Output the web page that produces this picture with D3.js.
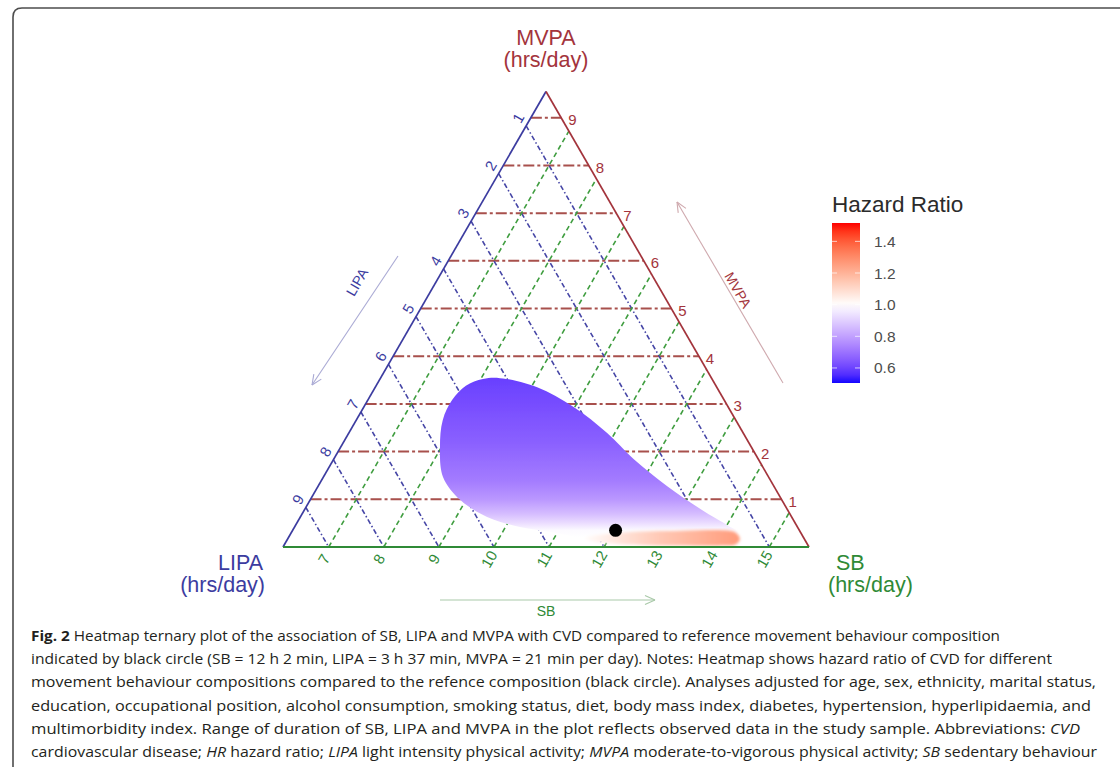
<!DOCTYPE html>
<html><head><meta charset="utf-8">
<script src="https://cdn.jsdelivr.net/npm/d3@7"></script>
<style>body{margin:0;background:#fff;} svg{display:block;}</style>
</head><body>
<svg id="chart" width="1120" height="767"></svg>
<script>
// ---------------- data ----------------
const TOTAL = 16;                       // waking hours: SB + LIPA + MVPA
const sbRange = [6.17, 15.72];
const lipaRange = [0.28, 9.83];
const mvpaRange = [0, 9.55];
const sbTicks = [7, 8, 9, 10, 11, 12, 13, 14, 15];
const lipaTicks = [1, 2, 3, 4, 5, 6, 7, 8, 9];
const mvpaTicks = [1, 2, 3, 4, 5, 6, 7, 8, 9];
const refSB = 12 + 2 / 60, refLIPA = 3 + 37 / 60, refMVPA = 21 / 60;

// observed-data region (SB, MVPA); LIPA = TOTAL - SB - MVPA
const regionSB   = [8.34, 9.11, 9.97, 10.86, 11.62, 12.50, 13.38, 14.02, 14.27, 14.36, 14.32, 12.82, 11.67, 10.91, 10.26, 9.56, 8.89, 8.34, 7.97, 7.74, 7.70, 7.80, 8.04];
const regionMVPA = [3.54, 3.35, 2.94, 2.39, 1.84, 1.28, 0.78, 0.45, 0.31, 0.15, 0.04, 0.02, 0.15, 0.31, 0.42, 0.63, 0.99, 1.47, 2.10, 2.66, 3.08, 3.38, 3.52];
// hazard ratio by MVPA level inside the region
const rowMVPA = [0.00, 0.20, 0.35, 0.50, 0.70, 1.00, 1.40, 1.80, 2.20, 2.60, 3.00, 3.60];
const rowHR   = [1.00, 1.00, 0.99, 0.93, 0.86, 0.78, 0.72, 0.69, 0.66, 0.64, 0.62, 0.59];
// low-MVPA band with HR > 1 (SB, MVPA)
const stripSB   = [11.55, 12.16, 13.23, 14.00, 14.24, 14.38, 14.36, 14.18, 13.36, 12.26, 11.66];
const stripMVPA = [0.19, 0.30, 0.34, 0.35, 0.30, 0.17, 0.05, 0.03, 0.03, 0.06, 0.13];
const stripHRsb = [11.5, 12.0, 12.5, 13.0, 13.5, 14.0, 14.4];
const stripHR   = [1.00, 1.05, 1.10, 1.15, 1.19, 1.23, 1.26];
// legend
const legendLimits = [0.505, 1.516];
const legendTicks = [0.6, 0.8, 1.0, 1.2, 1.4];

const captionLines = [
  [["b","Fig. 2"],["n"," Heatmap ternary plot of the association of SB, LIPA and MVPA with CVD compared to reference movement behaviour composition"]],
  [["n","indicated by black circle (SB = 12 h 2 min, LIPA = 3 h 37 min, MVPA = 21 min per day). Notes: Heatmap shows hazard ratio of CVD for different"]],
  [["n","movement behaviour compositions compared to the refence composition (black circle). Analyses adjusted for age, sex, ethnicity, marital status,"]],
  [["n","education, occupational position, alcohol consumption, smoking status, diet, body mass index, diabetes, hypertension, hyperlipidaemia, and"]],
  [["n","multimorbidity index. Range of duration of SB, LIPA and MVPA in the plot reflects observed data in the study sample. Abbreviations: "],["i","CVD"]],
  [["n","cardiovascular disease; "],["i","HR"],["n"," hazard ratio; "],["i","LIPA"],["n"," light intensity physical activity; "],["i","MVPA"],["n"," moderate-to-vigorous physical activity; "],["i","SB"],["n"," sedentary behaviour"]]
];
const captionWidths = [969, 1021, 1065, 1060, 1049, 1066];

// ---------------- layout ----------------
const svg = d3.select("#chart");
const FONT = "'Liberation Sans', Arial, sans-serif";
const VL = [283, 547], VR = [809, 547], VT = [546, 91.5];
const wSB = d3.scaleLinear().domain(sbRange).range([0, 1]);
const wLIPA = d3.scaleLinear().domain(lipaRange).range([0, 1]);
const wMVPA = d3.scaleLinear().domain(mvpaRange).range([0, 1]);
function pt(sb, lipa, mvpa) {
  const s = wSB(sb), l = wLIPA(lipa), m = wMVPA(mvpa), t = s + l + m;
  return [(l * VL[0] + s * VR[0] + m * VT[0]) / t, (l * VL[1] + s * VR[1] + m * VT[1]) / t];
}
const ptSM = (sb, m) => pt(sb, TOTAL - sb - m, m);
const colorHR = d3.scaleLinear().domain([0.5, 1, 1.5]).range(["#0000ff", "#ffffff", "#ff0000"]).interpolate(d3.interpolateLab);

const C = {
  mvpa: "#a3343c", mvpaGrid: "#a8504c", mvpaArrow: "#cfa9ae",
  lipa: "#3c3ca0", lipaGrid: "#4646a6", lipaArrow: "#a9a9d4",
  sb: "#2f8a36", sbGrid: "#3f9d3f", sbArrow: "#a9c9a9"
};

const defs = svg.append("defs");

// frame
svg.append("path").attr("d", "M13,780 L13,17 Q13,8 22,8 L1125,8")
  .attr("fill", "none").attr("stroke", "#4d4d4d").attr("stroke-width", 1.6);

// ---------------- grid ----------------
const sbMin = sbRange[0], lipaMin = lipaRange[0];
const gGrid = svg.append("g").attr("fill", "none");
gGrid.selectAll(".gm").data(mvpaTicks).join("line")
  .attr("x1", m => pt(sbMin, TOTAL - sbMin - m, m)[0]).attr("y1", m => pt(sbMin, TOTAL - sbMin - m, m)[1])
  .attr("x2", m => pt(TOTAL - lipaMin - m, lipaMin, m)[0]).attr("y2", m => pt(TOTAL - lipaMin - m, lipaMin, m)[1])
  .attr("stroke", C.mvpaGrid).attr("stroke-width", 2).attr("stroke-dasharray", "11,3,3,3");
gGrid.selectAll(".gl").data(lipaTicks).join("line")
  .attr("x1", l => pt(sbMin, l, TOTAL - sbMin - l)[0]).attr("y1", l => pt(sbMin, l, TOTAL - sbMin - l)[1])
  .attr("x2", l => pt(TOTAL - l, l, 0)[0]).attr("y2", l => pt(TOTAL - l, l, 0)[1])
  .attr("stroke", C.lipaGrid).attr("stroke-width", 1.6).attr("stroke-dasharray", "5,2.5,1.5,2.5");
gGrid.selectAll(".gs").data(sbTicks).join("line")
  .attr("x1", s => pt(s, TOTAL - s, 0)[0]).attr("y1", s => pt(s, TOTAL - s, 0)[1])
  .attr("x2", s => pt(s, lipaMin, TOTAL - s - lipaMin)[0]).attr("y2", s => pt(s, lipaMin, TOTAL - s - lipaMin)[1])
  .attr("stroke", C.sbGrid).attr("stroke-width", 1.6).attr("stroke-dasharray", "5,3.5");

// ---------------- heatmap region ----------------
const maxRow = d3.max(rowMVPA);
const rowGrad = defs.append("linearGradient").attr("id", "rowGrad").attr("gradientUnits", "userSpaceOnUse")
  .attr("x1", 0).attr("x2", 0).attr("y1", ptSM(10, 0)[1]).attr("y2", ptSM(10, maxRow)[1]);
rowGrad.selectAll("stop").data(rowMVPA).join("stop")
  .attr("offset", (d) => d / maxRow).attr("stop-color", (d, i) => colorHR(rowHR[i]));
const line = d3.line().curve(d3.curveCatmullRomClosed.alpha(0.5));
defs.append("filter").attr("id", "soft").append("feGaussianBlur").attr("stdDeviation", 0.7);
svg.append("path").attr("d", line(regionSB.map((s, i) => ptSM(s, regionMVPA[i]))))
  .attr("fill", "url(#rowGrad)").attr("filter", "url(#soft)");

const sbMinS = d3.min(stripHRsb), sbMaxS = d3.max(stripHRsb);
const stripGrad = defs.append("linearGradient").attr("id", "stripGrad").attr("gradientUnits", "userSpaceOnUse")
  .attr("x1", ptSM(sbMinS, 0.15)[0]).attr("x2", ptSM(sbMaxS, 0.15)[0]).attr("y1", 0).attr("y2", 0);
stripGrad.selectAll("stop").data(stripHRsb).join("stop")
  .attr("offset", d => (d - sbMinS) / (sbMaxS - sbMinS)).attr("stop-color", (d, i) => colorHR(stripHR[i]));
defs.append("filter").attr("id", "soft2").append("feGaussianBlur").attr("stdDeviation", 1.4);
svg.append("path").attr("d", line(stripSB.map((s, i) => ptSM(s, stripMVPA[i]))))
  .attr("fill", "url(#stripGrad)").attr("filter", "url(#soft2)");

// reference composition
const rp = pt(refSB, refLIPA, refMVPA);
svg.append("circle").attr("cx", rp[0]).attr("cy", rp[1]).attr("r", 6.5).attr("fill", "#000");

// ---------------- triangle edges ----------------
svg.append("line").attr("x1", VL[0]).attr("y1", VL[1]).attr("x2", VT[0]).attr("y2", VT[1]).attr("stroke", C.lipa).attr("stroke-width", 1.7);
svg.append("line").attr("x1", VT[0]).attr("y1", VT[1]).attr("x2", VR[0]).attr("y2", VR[1]).attr("stroke", C.mvpa).attr("stroke-width", 1.7);
svg.append("line").attr("x1", VL[0]).attr("y1", VL[1]).attr("x2", VR[0]).attr("y2", VR[1]).attr("stroke", C.sb).attr("stroke-width", 2);

// ---------------- tick labels ----------------
svg.selectAll(".tm").data(mvpaTicks).join("text")
  .attr("x", m => pt(TOTAL - lipaMin - m, lipaMin, m)[0] + 7).attr("y", m => pt(TOTAL - lipaMin - m, lipaMin, m)[1] + 2)
  .attr("dominant-baseline", "central").attr("font-family", FONT).attr("font-size", 15).attr("fill", C.mvpa)
  .text(d => d);
svg.selectAll(".tl").data(lipaTicks).join("text")
  .attr("transform", l => { const p = pt(sbMin, l, TOTAL - sbMin - l); return `translate(${p[0] - 8},${p[1] - 8}) rotate(-60)`; })
  .attr("text-anchor", "middle").attr("dominant-baseline", "central").attr("font-family", FONT).attr("font-size", 15).attr("fill", C.lipa)
  .text(d => d);
svg.selectAll(".ts").data(sbTicks).join("text")
  .attr("transform", s => { const p = pt(s, TOTAL - s, 0); return `translate(${p[0] - 5},${p[1] + 12}) rotate(-60)`; })
  .attr("text-anchor", "middle").attr("dominant-baseline", "central").attr("font-family", FONT).attr("font-size", 15).attr("fill", C.sb)
  .text(d => d);

// ---------------- axis titles ----------------
function title(lines, xs, y, anchor, color) {
  const t = svg.append("text").attr("font-family", FONT).attr("font-size", 21.5).attr("fill", color).attr("text-anchor", anchor);
  lines.forEach((s, i) => t.append("tspan").attr("x", xs[i]).attr("y", y + i * 22).text(s));
}
title(["MVPA", "(hrs/day)"], [546, 546], 45, "middle", C.mvpa);
title(["LIPA", "(hrs/day)"], [263, 265], 570, "end", C.lipa);
title(["SB", "(hrs/day)"], [836, 828], 570, "start", C.sb);

// ---------------- axis arrows ----------------
function arrow(x1, y1, x2, y2, color) {
  const g = svg.append("g").attr("stroke", color).attr("stroke-width", 1.1).attr("fill", "none");
  g.append("line").attr("x1", x1).attr("y1", y1).attr("x2", x2).attr("y2", y2);
  const a = Math.atan2(y2 - y1, x2 - x1), h = 11;
  [0.42, -0.42].forEach(d => g.append("line").attr("x1", x2).attr("y1", y2)
    .attr("x2", x2 - h * Math.cos(a + d)).attr("y2", y2 - h * Math.sin(a + d)));
}
arrow(398, 256, 312, 385, C.lipaArrow);
arrow(783, 383, 677, 202, C.mvpaArrow);
arrow(440, 600, 655, 600, C.sbArrow);
svg.append("text").attr("transform", "translate(357,282) rotate(-60)").attr("text-anchor", "middle").attr("dominant-baseline", "central")
  .attr("font-family", FONT).attr("font-size", 14).attr("fill", C.lipa).text("LIPA");
svg.append("text").attr("transform", "translate(738,290) rotate(60)").attr("text-anchor", "middle").attr("dominant-baseline", "central")
  .attr("font-family", FONT).attr("font-size", 14).attr("fill", C.mvpa).text("MVPA");
svg.append("text").attr("x", 546).attr("y", 611).attr("text-anchor", "middle").attr("dominant-baseline", "central")
  .attr("font-family", FONT).attr("font-size", 14).attr("fill", C.sb).text("SB");

// ---------------- legend ----------------
const yLeg = d3.scaleLinear().domain(legendLimits).range([383, 223]);
defs.append("clipPath").attr("id", "legClip").append("rect").attr("x", 820).attr("y", 180).attr("width", 146).attr("height", 40);
svg.append("text").attr("x", 832).attr("y", 212).attr("font-family", FONT).attr("font-size", 22.5).attr("fill", "#2b2b2b")
  .attr("clip-path", "url(#legClip)").text("Hazard Ratio");
const legGrad = defs.append("linearGradient").attr("id", "legGrad").attr("x1", 0).attr("x2", 0).attr("y1", 1).attr("y2", 0);
const legStops = d3.range(0, 21).map(i => legendLimits[0] + (legendLimits[1] - legendLimits[0]) * i / 20);
legGrad.selectAll("stop").data(legStops).join("stop")
  .attr("offset", (d, i) => i / 20).attr("stop-color", d => colorHR(d));
svg.append("rect").attr("x", 832).attr("y", yLeg(legendLimits[1])).attr("width", 28)
  .attr("height", yLeg(legendLimits[0]) - yLeg(legendLimits[1])).attr("fill", "url(#legGrad)");
const lt = svg.append("g");
legendTicks.forEach(v => {
  lt.append("line").attr("x1", 832).attr("x2", 837).attr("y1", yLeg(v)).attr("y2", yLeg(v)).attr("stroke", "#fff").attr("stroke-opacity", 0.7);
  lt.append("line").attr("x1", 855).attr("x2", 860).attr("y1", yLeg(v)).attr("y2", yLeg(v)).attr("stroke", "#fff").attr("stroke-opacity", 0.7);
  lt.append("text").attr("x", 874).attr("y", yLeg(v)).attr("dominant-baseline", "central")
    .attr("font-family", FONT).attr("font-size", 15.5).attr("fill", "#4d4d4d").text(v.toFixed(1));
});

// ---------------- caption ----------------
const CAPFONT = "'Liberation Sans Narrow', 'Open Sans', 'Liberation Sans', sans-serif";
captionLines.forEach((parts, i) => {
  const t = svg.append("text").attr("x", 31).attr("y", 641 + i * 23.2)
    .attr("font-family", CAPFONT).attr("font-size", 15).attr("fill", "#231f20")
    .attr("textLength", captionWidths[i]).attr("lengthAdjust", "spacingAndGlyphs");
  parts.forEach(([k, s]) => {
    const ts = t.append("tspan").text(s);
    if (k === "b") ts.attr("font-weight", "bold");
    if (k === "i") ts.attr("font-style", "italic");
  });
});
</script>
</body></html>
